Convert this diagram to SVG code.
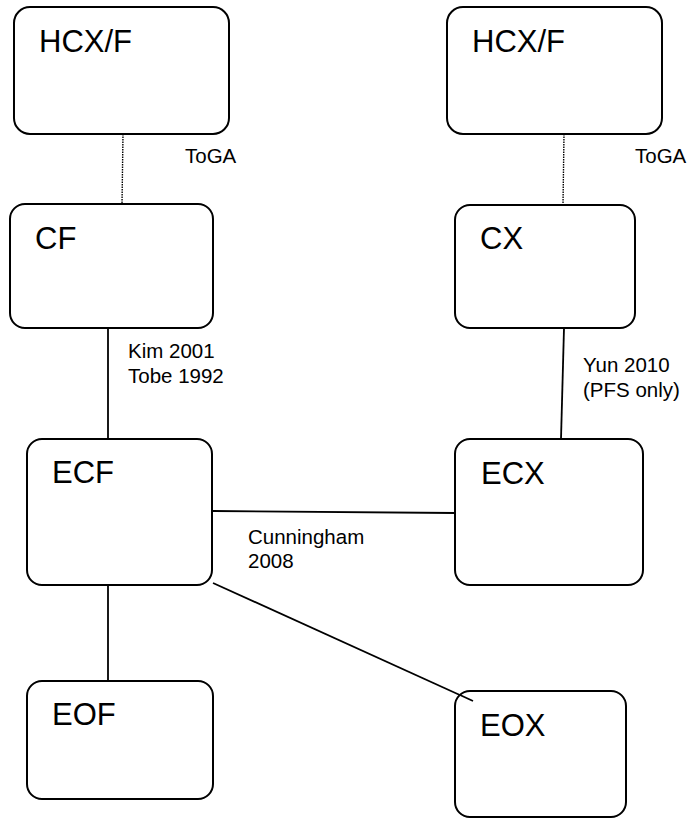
<svg xmlns="http://www.w3.org/2000/svg" width="693" height="818" viewBox="0 0 693 818">
  <style>
    .box { fill: #ffffff; stroke: #000000; stroke-width: 2; }
    .name { font-family: "Liberation Sans", Arial, sans-serif; font-size: 31px; fill: #000000; }
    .note { font-family: "Liberation Sans", Arial, sans-serif; font-size: 20.5px; fill: #000000; }
    .link { stroke: #000000; stroke-width: 1.8; fill: none; }
    .dotted { stroke: #000000; stroke-width: 1.4; stroke-dasharray: 1.5 1; fill: none; }
  </style>
  <rect width="693" height="818" fill="#ffffff"/>

  <!-- connectors -->
  <g id="connectors">
    <line class="dotted" x1="123" y1="134" x2="122" y2="205"/>
    <line class="dotted" x1="564" y1="134" x2="563" y2="205"/>
    <line class="link" x1="108" y1="328" x2="108" y2="439"/>
    <line class="link" x1="564" y1="328" x2="561" y2="439"/>
    <line class="link" x1="213" y1="511" x2="455" y2="513"/>
    <line class="link" x1="108" y1="585" x2="108" y2="681"/>
    <line class="link" x1="213" y1="583" x2="473" y2="701"/>
  </g>

  <!-- connector labels -->
  <g id="labels">
    <text class="note" x="185" y="163">ToGA</text>
    <text class="note" x="635" y="163">ToGA</text>
    <text class="note" x="128" y="358">Kim 2001</text>
    <text class="note" x="128" y="383">Tobe 1992</text>
    <text class="note" x="583" y="372">Yun 2010</text>
    <text class="note" x="583" y="397">(PFS only)</text>
    <text class="note" x="248" y="544">Cunningham</text>
    <text class="note" x="248" y="568">2008</text>
  </g>

  <!-- nodes -->
  <g id="hcxf-left">
    <rect class="box" x="14" y="7" width="215" height="127" rx="16"/>
    <text class="name" x="39" y="52">HCX/F</text>
  </g>
  <g id="hcxf-right">
    <rect class="box" x="447" y="7" width="215" height="127" rx="16"/>
    <text class="name" x="472" y="52">HCX/F</text>
  </g>
  <g id="cf">
    <rect class="box" x="10" y="204" width="203" height="124" rx="15"/>
    <text class="name" x="35" y="249">CF</text>
  </g>
  <g id="cx">
    <rect class="box" x="455" y="205" width="180" height="123" rx="15"/>
    <text class="name" x="480" y="249">CX</text>
  </g>
  <g id="ecf">
    <rect class="box" x="27" y="439" width="185" height="146" rx="15"/>
    <text class="name" x="52" y="483">ECF</text>
  </g>
  <g id="ecx">
    <rect class="box" x="455" y="439" width="188" height="146" rx="15"/>
    <text class="name" x="481" y="484">ECX</text>
  </g>
  <g id="eof">
    <rect class="box" x="27" y="681" width="186" height="118" rx="15"/>
    <text class="name" x="52" y="725">EOF</text>
  </g>
  <g id="eox">
    <rect class="box" x="455" y="691" width="171" height="126" rx="15"/>
    <text class="name" x="480" y="736">EOX</text>
  </g>
  <!-- the diagonal link overlaps the EOX corner slightly -->
  <line class="link" x1="460" y1="695" x2="473" y2="701"/>
</svg>
